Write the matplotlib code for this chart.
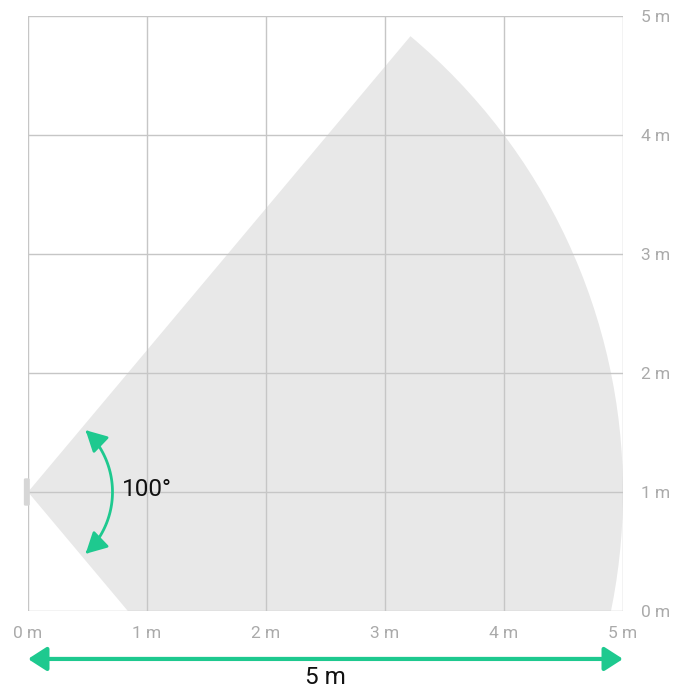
import numpy as np
import matplotlib
matplotlib.use("Agg")
import matplotlib.pyplot as plt
from matplotlib.patches import Wedge, FancyBboxPatch, FancyArrowPatch
from matplotlib.path import Path

plt.rcParams['font.family'] = ['Roboto', 'DejaVu Sans']

# data
x_ticks = [0, 1, 2, 3, 4, 5]
x_labels = ["0 m", "1 m", "2 m", "3 m", "4 m", "5 m"]
y_ticks = [0, 1, 2, 3, 4, 5]
y_labels = ["0 m", "1 m", "2 m", "3 m", "4 m", "5 m"]
sensor_pos = (0.0, 1.0)
fov_deg = 100
range_m = 5.0
angle_label = "100°"
distance_label = "5 m"

green = "#1ec98f"
grid_c = "#c6c6c6"
fan_c = "#e8e8e8"

fig = plt.figure(figsize=(6.75, 6.96), dpi=100)
ax = fig.add_axes([28/675, 85/696, 595/675, 595/696])
ax.set_xlim(0, 5)
ax.set_ylim(0, 5)

# fan
w = Wedge(sensor_pos, range_m, -fov_deg/2, fov_deg/2, facecolor=fan_c, edgecolor='none', zorder=1)
ax.add_patch(w)

# grid
for v in x_ticks:
    ax.axvline(v, color=grid_c, lw=1, zorder=2)
for v in y_ticks:
    ax.axhline(v, color=grid_c, lw=1, zorder=2)
for s in ax.spines.values():
    s.set_visible(False)

ax.set_xticks(x_ticks)
ax.set_xticklabels(x_labels)
ax.set_yticks(y_ticks)
ax.set_yticklabels(y_labels)
ax.yaxis.tick_right()
ax.tick_params(axis='x', length=0, pad=11, labelsize=12.5, labelcolor="#aaaaaa")
ax.tick_params(axis='y', length=0, pad=13, labelsize=12.5, labelcolor="#aaaaaa")
for t in ax.get_yticklabels():
    t.set_ha('left')

# sensor
ax.add_patch(FancyBboxPatch((sensor_pos[0]-0.035, sensor_pos[1]-0.115), 0.05, 0.23,
                            boxstyle="round,pad=0,rounding_size=0.012",
                            facecolor="#d6d6d6", edgecolor='none', zorder=3, clip_on=False))

# angle arc (true circular arc)
r_arc = 0.71
half = np.deg2rad(47)
th = np.linspace(half, -half, 60)
verts = np.column_stack([sensor_pos[0] + r_arc*np.cos(th), sensor_pos[1] + r_arc*np.sin(th)])
arc = FancyArrowPatch(path=Path(verts),
                      arrowstyle="<|-|>,head_length=0.75,head_width=0.4",
                      mutation_scale=17, color=green, lw=2, zorder=4)
ax.add_patch(arc)
ax.text(0.79, 1.02, angle_label, fontsize=17.5, color="#111111", ha='left', va='center', zorder=5)

# distance arrow
dist = FancyArrowPatch((0, -0.403), (5, -0.403),
                       arrowstyle="<|-|>,head_length=0.7,head_width=0.45",
                       mutation_scale=16, color=green, lw=3, zorder=4,
                       shrinkA=0, shrinkB=0, clip_on=False)
ax.add_patch(dist)
ax.text(2.5, -0.555, distance_label, fontsize=17.5, color="#111111", ha='center', va='center', clip_on=False)

fig.savefig("out.png", dpi=100)
